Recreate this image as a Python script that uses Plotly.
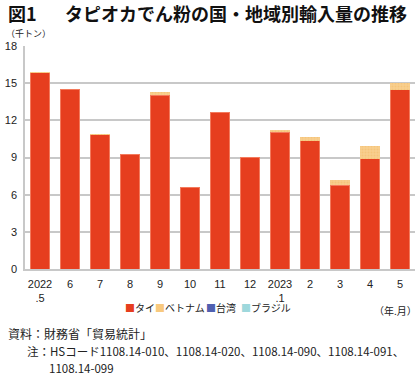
import plotly.graph_objects as go

months = ["2022<br>.5", "6", "7", "8", "9", "10", "11", "12", "2023<br>.1", "2", "3", "4", "5"]
thai = [15.85, 14.48, 10.82, 9.25, 14.02, 6.54, 12.60, 9.03, 11.05, 10.35, 6.78, 8.90, 14.45]
vietnam = [0.05, 0.0, 0.06, 0.0, 0.24, 0.0, 0.0, 0.0, 0.20, 0.27, 0.40, 1.00, 0.60]
taiwan = [0.0, 0.0, 0.0, 0.0, 0.0, 0.0, 0.0, 0.0, 0.0, 0.0, 0.0, 0.0, 0.0]
brazil = [0.0, 0.0, 0.0, 0.0, 0.0, 0.0, 0.0, 0.0, 0.0, 0.0, 0.0, 0.0, 0.0]
series_names = ["タイ", "ベトナム", "台湾", "ブラジル"]
series_colors = ["#E63E1E", "#F8C97E", "#5060B0", "#9ED8DC"]
y_ticks = [0, 3, 6, 9, 12, 15, 18]

FONT = "Noto Sans CJK JP, Noto Sans, sans-serif"
W, H = 420, 375
ML, MR, MT, MB = 21, 5, 46, 106
PW = W - ML - MR
PH = H - MT - MB


def px(x):
    return (x - ML) / PW


def py(y):
    return (H - MB - y) / PH


fig = go.Figure()
fig.add_trace(go.Bar(x=months, y=thai, name=series_names[0],
                     marker=dict(color=series_colors[0], line=dict(color="#F37A5C", width=1))))
fig.add_trace(go.Bar(x=months, y=vietnam, name=series_names[1],
                     marker=dict(color=series_colors[1], line=dict(color="#F8C97E", width=0),
                                 pattern=dict(shape=".", fgcolor="#F2B868", bgcolor="#F9D08E",
                                              size=3, solidity=0.4))))
fig.add_trace(go.Bar(x=months, y=taiwan, name=series_names[2],
                     marker=dict(color=series_colors[2], line=dict(width=0))))
fig.add_trace(go.Bar(x=months, y=brazil, name=series_names[3],
                     marker=dict(color=series_colors[3], line=dict(width=0))))

fig.update_layout(
    width=W, height=H,
    margin=dict(l=ML, r=MR, t=MT, b=MB),
    barmode="stack", bargap=0.34,
    plot_bgcolor="white", paper_bgcolor="white",
    showlegend=False,
    font=dict(family=FONT, size=11, color="#222222"),
)
fig.update_yaxes(range=[0, 18], tickvals=y_ticks, ticktext=[str(v) for v in y_ticks],
                 showgrid=True, gridcolor="#C8C8C8", gridwidth=1.5,
                 showline=True, linecolor="#C8C8C8", linewidth=1.5,
                 zeroline=False, ticks="", ticklabelstandoff=4,
                 tickfont=dict(family="Liberation Sans, Arial, sans-serif", size=11, color="#222"))
fig.update_xaxes(showline=True, linecolor="#C8C8C8", linewidth=1.5, ticks="",
                 tickfont=dict(family="Liberation Sans, Arial, sans-serif", size=11, color="#222"),
                 ticklabelstandoff=4)

ann = []
# Title
ann.append(dict(text="<b>図1</b>", x=px(2), y=py(13), xref="paper", yref="paper",
                xanchor="left", yanchor="middle", showarrow=False,
                font=dict(family=FONT, size=18, color="#111")))
ann.append(dict(text="<b>タピオカでん粉の国・地域別輸入量の推移</b>", x=px(59), y=py(13),
                xref="paper", yref="paper", xanchor="left", yanchor="middle", showarrow=False,
                font=dict(family=FONT, size=18, color="#111")))
# Units
ann.append(dict(text="（千トン）", x=px(0), y=py(33), xref="paper", yref="paper",
                xanchor="left", yanchor="middle", showarrow=False,
                font=dict(family=FONT, size=9, color="#222")))
ann.append(dict(text="（年.月）", x=px(419), y=py(310), xref="paper", yref="paper",
                xanchor="right", yanchor="middle", showarrow=False,
                font=dict(family=FONT, size=10, color="#222")))
# Legend (manual, compact)
leg_x = [120, 150, 202, 237]
for name, col, lx in zip(series_names, series_colors, leg_x):
    ann.append(dict(text=f"<span style='color:{col}'>■</span>{name}", x=px(lx), y=py(307),
                    xref="paper", yref="paper", xanchor="left", yanchor="middle",
                    showarrow=False, font=dict(family=FONT, size=10, color="#222")))
# Notes
ann.append(dict(text="資料：財務省「貿易統計」", x=px(2), y=py(333), xref="paper", yref="paper",
                xanchor="left", yanchor="middle", showarrow=False,
                font=dict(family=FONT, size=12, color="#222")))
ann.append(dict(text="注：HSコード1108.14-010、1108.14-020、1108.14-090、1108.14-091、",
                x=px(21), y=py(351), xref="paper", yref="paper",
                xanchor="left", yanchor="middle", showarrow=False,
                font=dict(family=FONT, size=11.5, color="#222")))
ann.append(dict(text="1108.14-099", x=px(43), y=py(368), xref="paper", yref="paper",
                xanchor="left", yanchor="middle", showarrow=False,
                font=dict(family=FONT, size=11.5, color="#222")))
fig.update_layout(annotations=ann)

fig.write_html("out.html", config={"displayModeBar": False},
               post_script="document.body.style.margin='0';document.body.style.padding='0';")
